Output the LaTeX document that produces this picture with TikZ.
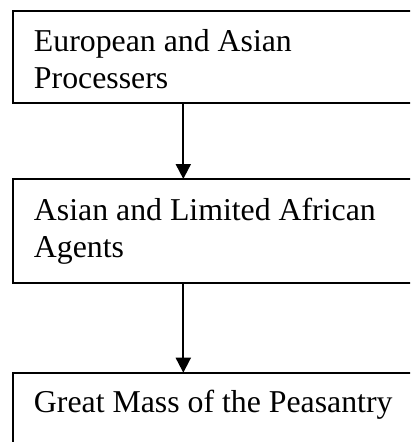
\documentclass[tikz,border=0pt]{standalone}
\usepackage{fontspec}
\setmainfont{Liberation Serif}
\usetikzlibrary{arrows.meta}
\begin{document}
\begin{tikzpicture}[x=1pt,y=-1pt,
  box/.style={draw, line width=1.7pt, rectangle, anchor=north west,
    inner xsep=21pt, inner ysep=0pt, outer sep=0pt,
    font=\fontsize{31.8pt}{37pt}\selectfont},
  flow/.style={line width=1.9pt, -{Triangle[length=15pt,width=15pt]}}]
\useasboundingbox (0,0) rectangle (410,442);
\clip (0,0) rectangle (410,442);
\node[box, text height=40pt, text depth=52pt] (b1) at (13,11)
  {\parbox[t]{390pt}{European and Asian\\Processers}};
\node[box, text height=41pt, text depth=63pt] (b2) at (13,179)
  {\parbox[t]{390pt}{Asian and Limited African\\Agents}};
\node[box, text height=39.5pt, text depth=80pt] (b3) at (13,372.7)
  {\parbox[t]{390pt}{Great Mass of the Peasantry}};
\coordinate (ax) at (183.3,0);
\draw[flow] (b1.south -| ax) -- (b2.north -| ax);
\draw[flow] (b2.south -| ax) -- (b3.north -| ax);
\end{tikzpicture}
\end{document}
